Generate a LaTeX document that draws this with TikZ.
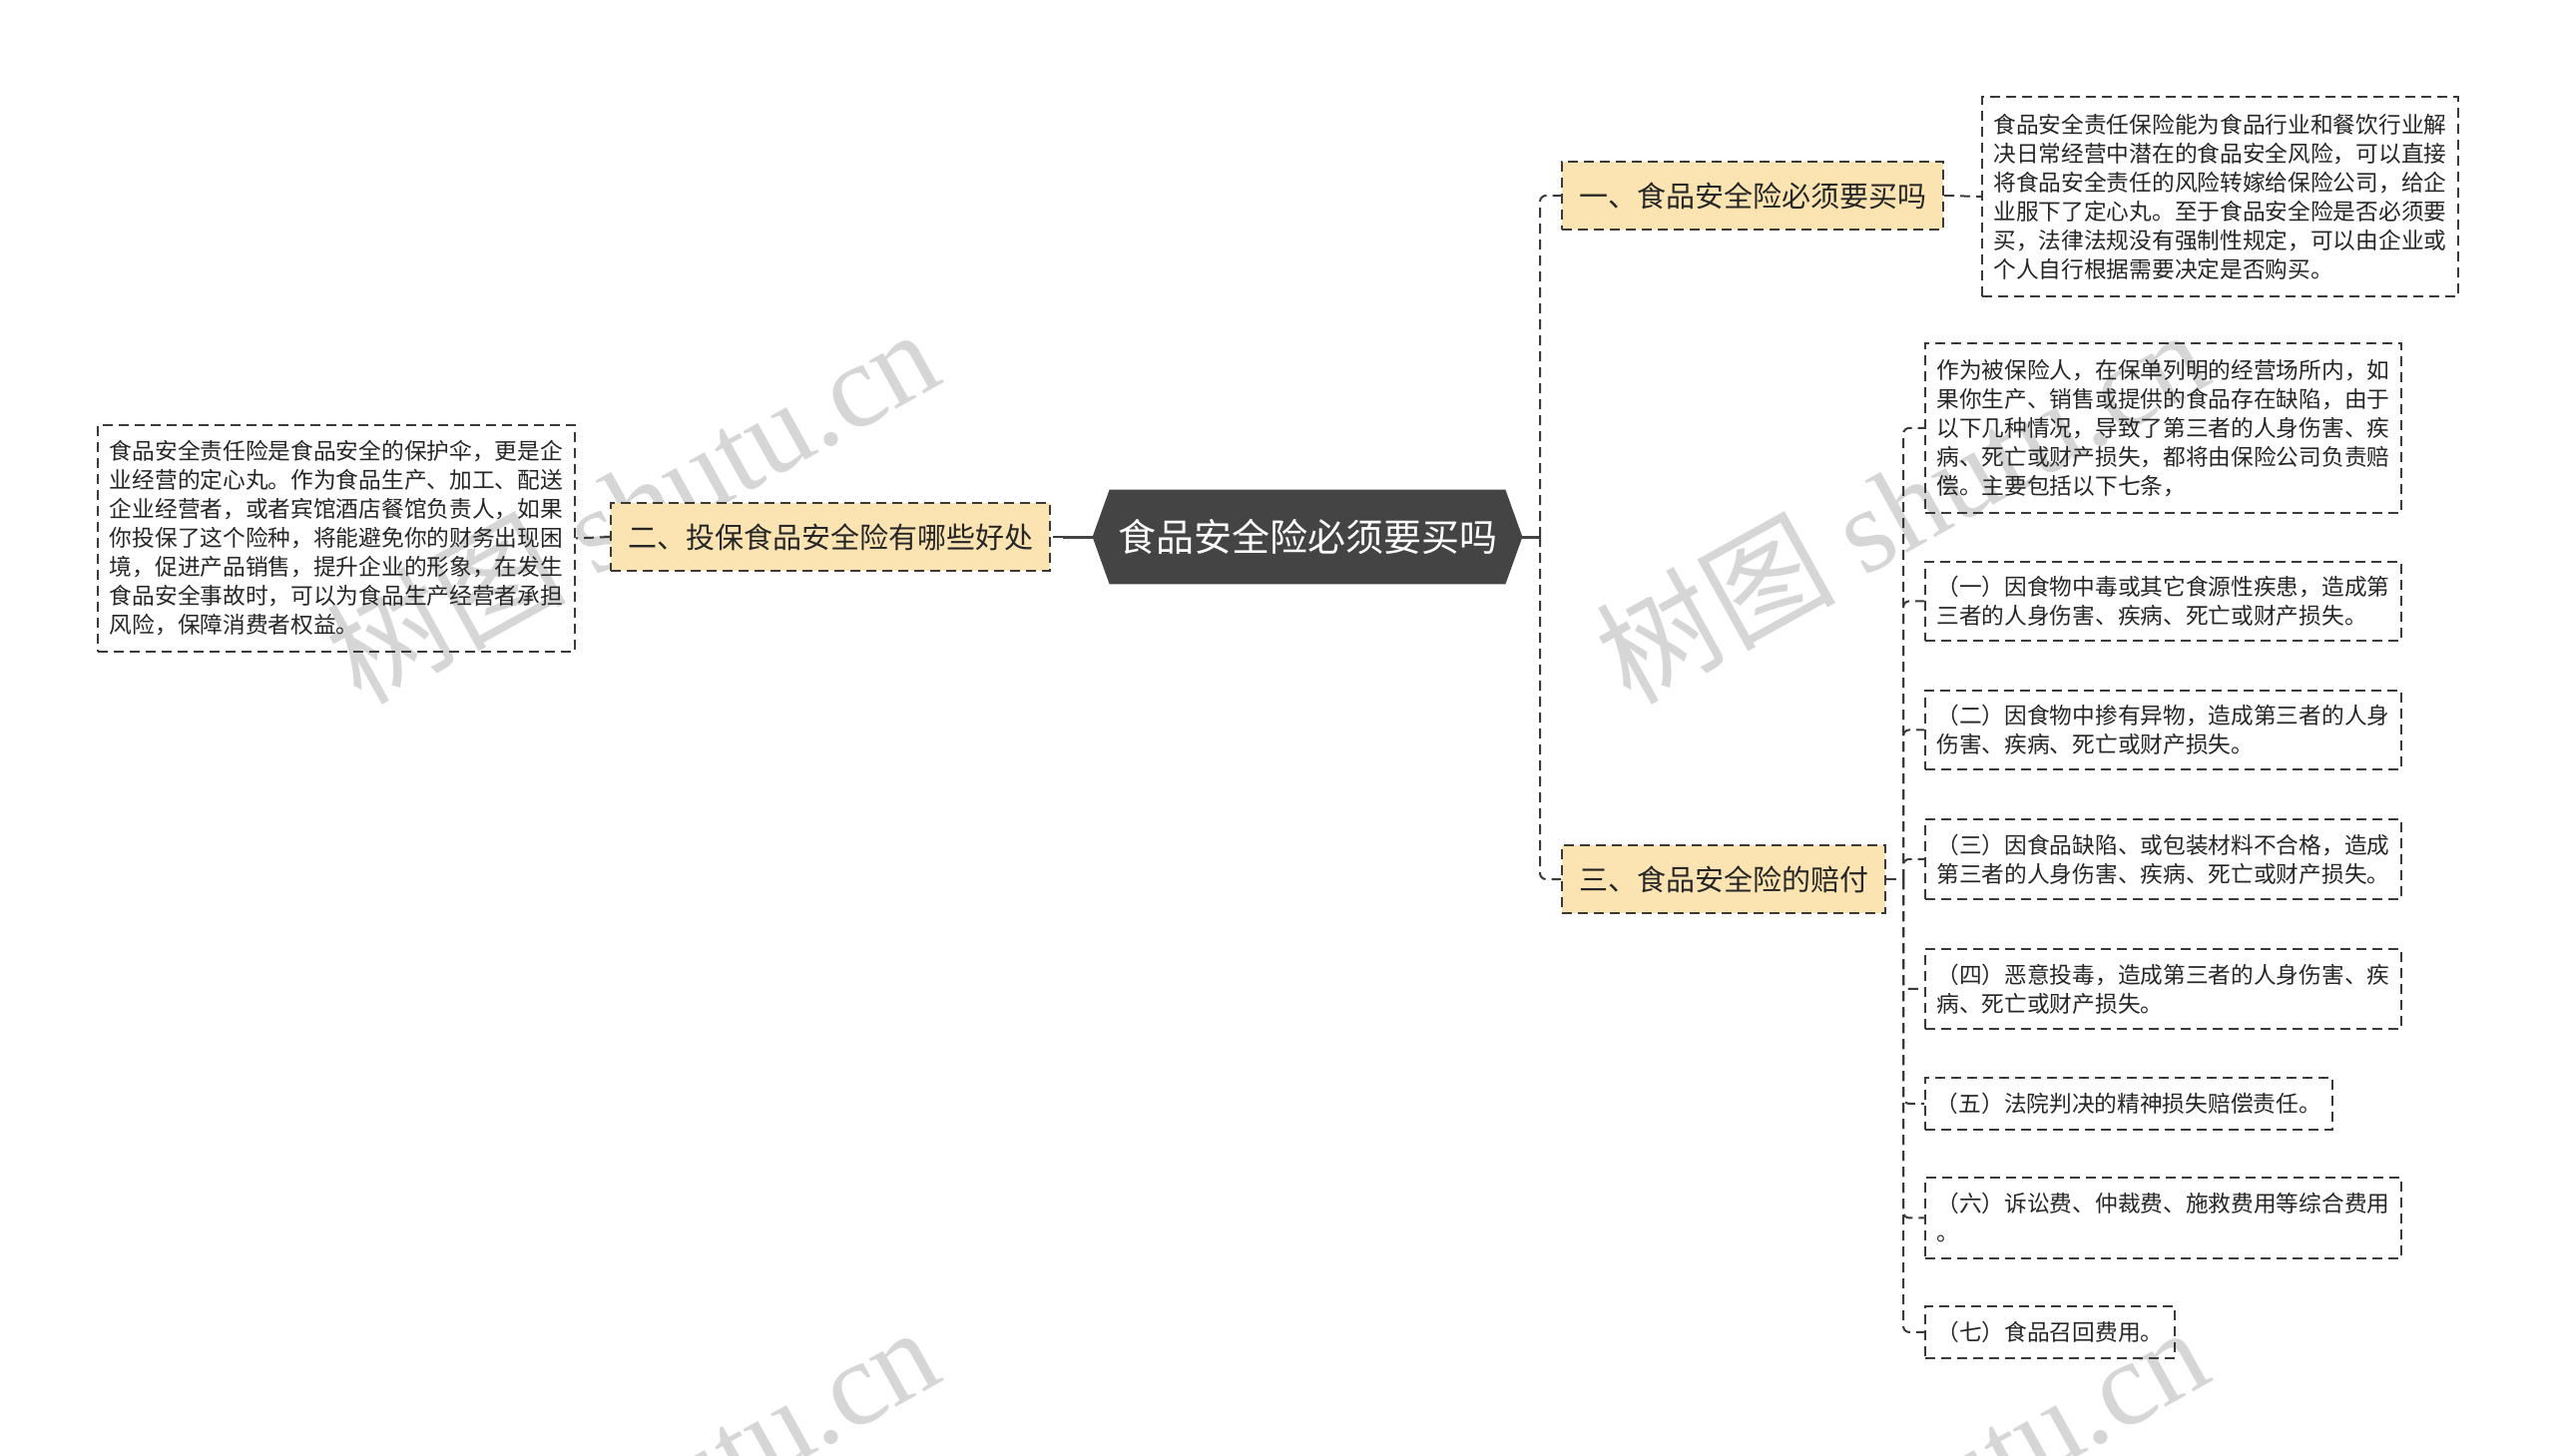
\documentclass[tikz,border=0pt]{standalone}
\usepackage{fontspec}
\setmainfont{Noto Sans CJK SC}
\newfontfamily\wmserif{Liberation Serif}
\usetikzlibrary{backgrounds,calc}
\definecolor{rootfill}{HTML}{444444}
\definecolor{orangefill}{HTML}{FCE4B2}
\definecolor{edgecol}{HTML}{3A3A3A}
\definecolor{wmcol}{HTML}{D6D6D6}
\definecolor{txt}{HTML}{262626}
\tikzset{
  rootnode/.style={minimum width=215pt, minimum height=47pt, inner sep=0pt, text=white, font=\fontsize{19pt}{22pt}\selectfont},
  lvone/.style={draw=edgecol, line width=1pt, dash pattern=on 5pt off 3pt, fill=orangefill, minimum height=34pt, inner xsep=8.5pt, inner ysep=0pt, text=txt, font=\fontsize{14.5pt}{17pt}\selectfont},
  leaf/.style={draw=edgecol, line width=0.9pt, dash pattern=on 5pt off 3pt, anchor=north west, align=left, inner xsep=5.5pt, inner ysep=0pt, text=txt, font=\fontsize{11.35pt}{14.5pt}\selectfont},
  conn/.style={draw=edgecol, line width=1pt, dash pattern=on 5pt off 3pt},
  solidconn/.style={draw=rootfill, line width=1.5pt},
  wm/.style={anchor=base, rotate=29, inner sep=0pt, text=wmcol, font=\fontsize{60pt}{60pt}\selectfont}
}
\begin{document}
\begin{tikzpicture}[x=0.5pt,y=-0.5pt]
\useasboundingbox (0,0) rectangle (2560,1458);
\begin{scope}[on background layer]
  \fill[white] (0,0) rectangle (2560,1458);
\end{scope}
% watermarks
\begin{scope}
  \clip (0,0) rectangle (2560,1458);
  \foreach \x/\y/\n in {655/545/wa, 1927/545/wb, 655/1545/wc, 1927/1545/wd}
    \node[wm] (\n) at (\x,\y) {树图 {\wmserif shutu.cn}};
\end{scope}
% root
\node[rootnode] (root) at (1310,538) {食品安全险必须要买吗};
\begin{scope}[on background layer]
  \fill[rootfill] (root.west) -- ($(root.north west)+(17,0)$) -- ($(root.north east)+(-17,0)$) -- (root.east) -- ($(root.south east)+(-17,0)$) -- ($(root.south west)+(17,0)$) -- cycle;
\end{scope}
% level one
\node[lvone, anchor=west] (n1) at (1564,196) {一、食品安全险必须要买吗};
\node[lvone, anchor=east] (n2) at (1053,538) {二、投保食品安全险有哪些好处};
\node[lvone, anchor=west] (n3) at (1564,881) {三、食品安全险的赔付};
% leaves
\node[leaf, minimum width=238.5pt, minimum height=100pt] (t1) at (1985,96) {食品安全责任保险能为食品行业和餐饮行业解\\决日常经营中潜在的食品安全风险，可以直接\\将食品安全责任的风险转嫁给保险公司，给企\\业服下了定心丸。至于食品安全险是否必须要\\买，法律法规没有强制性规定，可以由企业或\\个人自行根据需要决定是否购买。};
\node[leaf, minimum width=239pt, minimum height=113.5pt] (t2) at (97,425) {食品安全责任险是食品安全的保护伞，更是企\\业经营的定心丸。作为食品生产、加工、配送\\企业经营者，或者宾馆酒店餐馆负责人，如果\\你投保了这个险种，将能避免你的财务出现困\\境，促进产品销售，提升企业的形象，在发生\\食品安全事故时，可以为食品生产经营者承担\\风险，保障消费者权益。};
\node[leaf, minimum width=238.5pt, minimum height=85pt] (c0) at (1928,343) {作为被保险人，在保单列明的经营场所内，如\\果你生产、销售或提供的食品存在缺陷，由于\\以下几种情况，导致了第三者的人身伤害、疾\\病、死亡或财产损失，都将由保险公司负责赔\\偿。主要包括以下七条，};
\node[leaf, minimum width=238.5pt, minimum height=39.5pt] (c1) at (1928,562) {（一）因食物中毒或其它食源性疾患，造成第\\三者的人身伤害、疾病、死亡或财产损失。};
\node[leaf, minimum width=238.5pt, minimum height=39.5pt] (c2) at (1928,691) {（二）因食物中掺有异物，造成第三者的人身\\伤害、疾病、死亡或财产损失。};
\node[leaf, minimum width=238.5pt, minimum height=40pt] (c3) at (1928,820) {（三）因食品缺陷、或包装材料不合格，造成\\第三者的人身伤害、疾病、死亡或财产损失。};
\node[leaf, minimum width=238.5pt, minimum height=40pt] (c4) at (1928,950) {（四）恶意投毒，造成第三者的人身伤害、疾\\病、死亡或财产损失。};
\node[leaf, minimum width=204pt, minimum height=26pt] (c5) at (1928,1079) {（五）法院判决的精神损失赔偿责任。};
\node[leaf, minimum width=238.5pt, minimum height=40.5pt] (c6) at (1928,1179) {（六）诉讼费、仲裁费、施救费用等综合费用\\。};
\node[leaf, minimum width=125pt, minimum height=26pt] (c7) at (1928,1308) {（七）食品召回费用。};
% connectors
\coordinate (rj) at (1543,538);
\coordinate (lj) at (1065,538);
\coordinate (sj) at (1907,881);
\draw[solidconn] (root.east) -- (rj);
\draw[solidconn] (root.west) -- (lj);
\draw[conn, rounded corners=3pt] (rj) |- (n1.west);
\draw[conn, rounded corners=3pt] (rj) |- (n3.west);
\draw[conn] (lj) -- (n2.east);
\draw[conn] (n2.west) -- (t2.east);
\draw[conn] (n1.east) -- (t1.west);
\draw[conn] (n3.east) -- (sj);
\foreach \c in {c0,c1,c2,c3,c4,c5,c6,c7}
  \draw[conn, rounded corners=3pt] (sj) |- (\c.west);
\end{tikzpicture}
\end{document}
